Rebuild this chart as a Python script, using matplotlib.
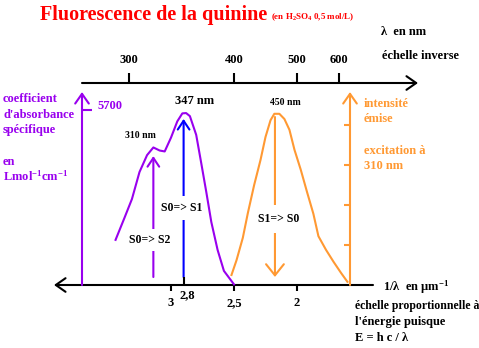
import numpy as np
import matplotlib
matplotlib.use('Agg')
from matplotlib import pyplot as plt

# quinine absorption spectrum, x = 1/lambda in um^-1, y in L mol^-1 cm^-1
abs_inv_lambda = [3.44, 3.37, 3.31, 3.25, 3.19, 3.14, 3.09, 3.05, 3.00, 2.95,
                  2.91, 2.88, 2.85, 2.80, 2.76, 2.72, 2.68, 2.63, 2.58, 2.50]
abs_eps = [1470, 2180, 2800, 3680, 4230, 4480, 4380, 4350, 4800, 5330,
           5590, 5600, 5500, 4890, 3970, 3030, 2050, 1140, 460, 20]

# emission spectrum (excitation at 310 nm), arbitrary units
em_inv_lambda = [2.52, 2.48, 2.43, 2.39, 2.34, 2.29, 2.25, 2.21, 2.18, 2.14,
                 2.10, 2.06, 2.02, 1.97, 1.92, 1.87, 1.83, 1.77, 1.71, 1.65, 1.60]
em_intensity = [0.25, 0.62, 1.18, 1.80, 2.50, 3.12, 3.70, 4.12, 4.28, 4.28,
                4.15, 3.88, 3.38, 2.88, 2.32, 1.78, 1.22, 0.88, 0.58, 0.30, 0.08]

top_ticks_nm = [300, 400, 500, 600]
bottom_ticks = [3, 2.5, 2]
bottom_labels = ['3', '2,5', '2']
eps_tick = 5700
em_ticks = [1, 2, 3, 4]

# transitions: (1/lambda, low end, high end)
s0s2 = (3.14, 260, 4200)
s0s1 = (2.90, 260, 5410)
s1s0 = (2.175, 4.2, 0.2)

PURPLE = '#9900ee'
ORANGE = '#ff9933'
BLUE = '#0000ff'

W, H = 479, 348
X0, XS = 171, 126       # pixel column of 1/lambda = 3, pixels per um^-1
Y0 = 285                # pixel row of the baseline
K = eps_tick / 175.0    # eps per pixel
KI = 1 / 40.0           # emission units per pixel

def vx(px):
    return 3 - (px - X0) / XS

def fy(py):
    return 1 - py / H

plt.rcParams['font.family'] = ['Liberation Serif', 'DejaVu Serif']
plt.rcParams['font.weight'] = 'bold'
plt.rcParams['mathtext.fontset'] = 'custom'
plt.rcParams['mathtext.rm'] = 'Liberation Serif:bold'
plt.rcParams['mathtext.bf'] = 'Liberation Serif:bold'
plt.rcParams['mathtext.it'] = 'Liberation Serif:bold'

fig = plt.figure(figsize=(W / 100, H / 100), dpi=100)
ax = fig.add_axes([0, 0, 1, 1])
ax.set_xlim(vx(0), vx(W))
ax.set_ylim(-(H - Y0) * K, Y0 * K)
ax.axis('off')
ax2 = ax.twinx()
ax2.set_ylim(-(H - Y0) * KI, Y0 * KI)
ax2.axis('off')

lw = 1.5
def arrow(a, p0, p1, color, hl=0.5, hw=0.35, ms=14, z=2):
    a.annotate('', xy=p1, xytext=p0,
               arrowprops=dict(arrowstyle=f'->,head_length={hl},head_width={hw}',
                               color=color, lw=lw, shrinkA=0, shrinkB=0,
                               mutation_scale=ms), zorder=z)

# axes drawn as arrows
y_top = (Y0 - 83) * K
arrow(ax, (vx(82), y_top), (vx(418), y_top), 'black')
arrow(ax, (vx(373), 0), (vx(54), 0), 'black')
arrow(ax, (vx(82), 0), (vx(82), (Y0 - 92) * K), PURPLE)
arrow(ax2, (vx(350), 0), (vx(350), (Y0 - 92) * KI), ORANGE)

top_x = [1000.0 / n for n in top_ticks_nm]
ax.vlines(top_x, y_top, y_top + 10 * K, color='black', lw=lw)
ax.vlines(bottom_ticks, -6 * K, 0, color='black', lw=lw)
ax.vlines(s0s1[0], 0, 8 * K, color='black', lw=lw, zorder=3)
ax.hlines(eps_tick, vx(82), vx(92), color=PURPLE, lw=lw)
ax2.hlines(em_ticks, vx(344), vx(350), color=ORANGE, lw=lw)

# spectra
ax.plot(abs_inv_lambda, abs_eps, color=PURPLE, lw=lw, zorder=5)
ax2.plot(em_inv_lambda, em_intensity, color=ORANGE, lw=lw, zorder=5)

# transitions
arrow(ax, (s0s2[0], s0s2[1]), (s0s2[0], s0s2[2]), PURPLE, hl=0.45, hw=0.3, ms=14)
arrow(ax, (s0s1[0], s0s1[1]), (s0s1[0], s0s1[2]), BLUE, hl=0.45, hw=0.3, ms=14)
arrow(ax2, (s1s0[0], s1s0[1]), (s1s0[0], s1s0[2]), ORANGE, hl=0.5, hw=0.4, ms=16)

def t(px, py, s, size=9, color='black', ha='left', **kw):
    fig.text(px / W, fy(py), s, fontsize=size, color=color, ha=ha, va='center',
             fontweight='bold', **kw)

# transition labels sit on white boxes that cut the arrows, under the curves
box = lambda p: dict(boxstyle=f'square,pad={p}', fc='white', ec='none')
def tlabel(a, px, py, s, pad):
    a.text(px / W, fy(py), s, transform=fig.transFigure, fontsize=8.5,
           ha='center', va='center', bbox=box(pad), zorder=4)

tlabel(ax, 150, 240, 'S0=> S2', 0.4)
tlabel(ax, 182, 208, 'S0=> S1', 0.55)
tlabel(ax2, 279, 219, 'S1=> S0', 0.65)

# titles and labels
t(40, 15, 'Fluorescence de la quinine', 14.5, color='red')
t(271, 17, r'(en H$_{2}$SO$_{4}$ 0,5 mol/L)', 6.5, color='red')
t(381, 32, 'λ  en nm', 9)
t(382, 56, 'échelle inverse', 9)

xt = ax.get_xaxis_transform()
for x, n in zip(top_x, top_ticks_nm):
    ax.text(x, fy(60), str(n), transform=xt, ha='center', va='center', fontsize=9)
for x, s in zip(bottom_ticks, bottom_labels):
    ax.text(x, fy(303), s, transform=xt, ha='center', va='center', fontsize=9)
ax.text(s0s1[0] - 0.03, fy(295), '2,8', transform=xt, ha='center', va='center', fontsize=9)

t(3, 99, 'coefficient', 9, PURPLE)
t(3, 115, "d'absorbance", 9, PURPLE)
t(3, 130, 'spécifique', 9, PURPLE)
t(3, 162, 'en', 9, PURPLE)
t(3, 176, r'Lmol$^{-1}$cm$^{-1}$', 9, PURPLE)
t(97, 106, str(eps_tick), 9, PURPLE)

t(364, 104, 'intensité', 9, ORANGE)
t(364, 119, 'émise', 9, ORANGE)
t(364, 151, 'excitation à', 9, ORANGE)
t(364, 166, '310 nm', 9, ORANGE)

t(195, 101, '347 nm', 9, ha='center')
t(140, 136, '310 nm', 7, ha='center')
t(285, 103, '450 nm', 7, ha='center')

t(383, 287, r'1/λ  en µm$^{-1}$', 9)
t(355, 306, 'échelle proportionnelle à', 8.5)
t(355, 322, "l'énergie puisque", 9)
t(355, 338, 'E = h c / λ', 9)

fig.savefig('out.png', dpi=100)
